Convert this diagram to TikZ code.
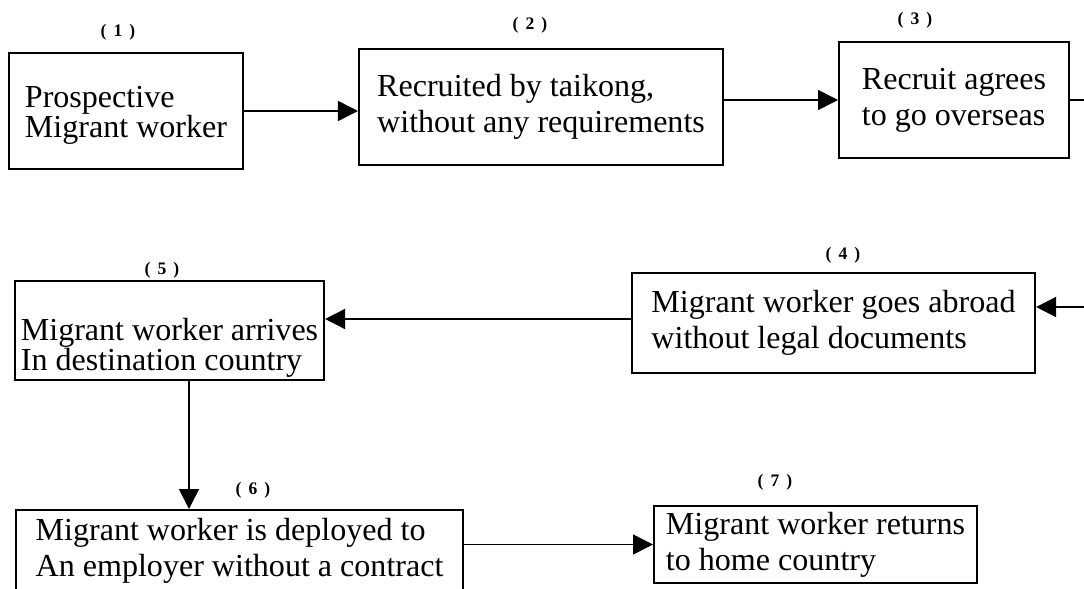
\documentclass[tikz,border=0pt]{standalone}
\usepackage{fontspec}
\setmainfont{Liberation Serif}
\usetikzlibrary{arrows.meta}
\tikzset{
  stage/.style={draw, line width=1.4pt, align=left, anchor=north west, inner sep=0pt,
    font=\fontsize{22.8}{25.6}\selectfont},
  tight/.style={font=\fontsize{22.8}{20.5}\selectfont},
  tag/.style={font=\bfseries\fontsize{12.5}{15}\selectfont},
  flow/.style={line width=1.1pt, -{Triangle[length=0.5cm,width=0.5cm]}}
}
\newcommand{\tagnum}[1]{(\hspace{0.4em}#1\hspace{0.4em})}
\begin{document}
\begin{tikzpicture}[x=0.025cm, y=-0.025cm]
\useasboundingbox (0,0) rectangle (1084,588);

\node[stage, tight, minimum width=5.85cm, minimum height=2.9cm] (prospect) at (8,52) {\rule{0pt}{0.75cm}Prospective\\Migrant worker};
\node[stage, minimum width=9.1cm, minimum height=2.9cm] (recruit) at (358,48) {Recruited by taikong,\\without any requirements};
\node[stage, minimum width=5.75cm, minimum height=2.9cm] (agree) at (838,41) {Recruit agrees\\to go overseas};
\node[stage, minimum width=10.075cm, minimum height=2.5cm] (abroad) at (631,272) {Migrant worker goes abroad\\without legal documents};
\node[stage, tight, minimum width=7.725cm, minimum height=2.475cm] (arrive) at (14,280) {\rule{0pt}{1.425cm}Migrant worker arrives\\In destination country};
\node[stage, minimum width=11.175cm, minimum height=2.025cm] (deploy) at (15,509) {Migrant worker is deployed to\\An employer without a contract};
\node[stage, minimum width=8.075cm, minimum height=1.925cm] (return) at (653,505) {Migrant worker returns\\to home country};

\node[tag] (n1) at (118,32) {\tagnum{1}};
\node[tag] (n2) at (530,25) {\tagnum{2}};
\node[tag] (n3) at (915,20) {\tagnum{3}};
\node[tag] (n4) at (843,255) {\tagnum{4}};
\node[tag] (n5) at (162,270) {\tagnum{5}};
\node[tag] (n6) at (253,490) {\tagnum{6}};
\node[tag] (n7) at (775,482) {\tagnum{7}};

\coordinate (bend) at (1110,307);
\coordinate (drop) at (189,0);

\draw[flow] (prospect.east) -- (prospect.east -| recruit.west);
\draw[flow] (recruit.east |- agree.west) -- (agree.west);
\draw[flow] (agree.east) -| (bend) -- (bend -| abroad.east);
\draw[flow] ([yshift=0.1cm]abroad.west) -- ([yshift=0.1cm]abroad.west -| arrive.east);
\draw[flow] (arrive.south -| drop) -- (deploy.north -| drop);
\draw[flow] (deploy.east |- return.west) -- (return.west);

\end{tikzpicture}
\end{document}
